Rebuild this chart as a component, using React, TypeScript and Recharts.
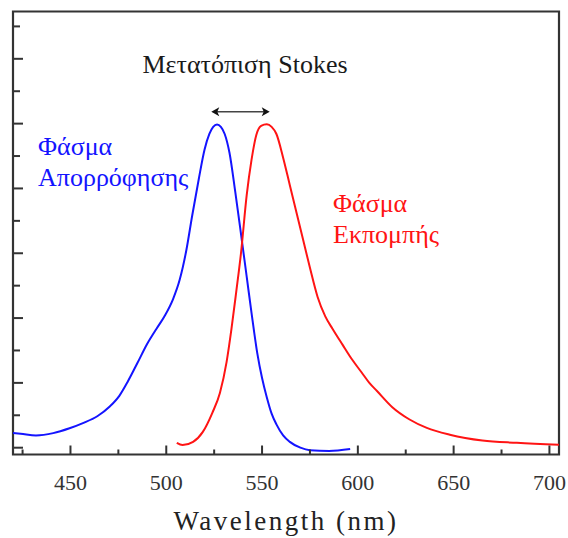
import React from 'react';
import { LineChart, Line, XAxis, YAxis, ReferenceArea, ReferenceLine } from 'recharts';

// wavelength ticks (nm) and intensity ticks (arb. units)
const wavelengthTicks = [425, 450, 475, 500, 525, 550, 575, 600, 625, 650, 675, 700];
const intensityTicks = [0, 0.1, 0.2, 0.3, 0.4, 0.5, 0.6, 0.7, 0.8, 0.9, 1.0, 1.1, 1.2, 1.3];

// absorption spectrum (blue)
const absorptionWl = [420, 424, 432, 441, 449.5, 456.5, 464, 470.5, 475.5, 480, 485, 490, 495, 499, 503.5, 507, 510.5, 513.5, 517, 520, 522.5, 524.5, 526.5, 528.5, 530.5, 533, 536, 539, 542, 544.5, 547.5, 550, 552.5, 555, 557.5, 561, 564.5, 570, 575, 585, 596];
const absorptionVal = [0.045, 0.043, 0.038, 0.045, 0.06, 0.076, 0.097, 0.127, 0.16, 0.205, 0.262, 0.32, 0.368, 0.405, 0.458, 0.518, 0.61, 0.715, 0.83, 0.92, 0.968, 0.99, 0.997, 0.99, 0.968, 0.91, 0.79, 0.66, 0.527, 0.416, 0.292, 0.215, 0.155, 0.105, 0.072, 0.038, 0.018, 0.0, -0.008, -0.01, -0.004];

// emission spectrum (red)
const emissionWl = [505.5, 508.5, 514, 519, 524, 528, 531.5, 534, 536.5, 539, 542, 544.5, 547, 549.5, 552.5, 555, 557.5, 561, 564.5, 568, 571.5, 575, 579, 583, 587, 592, 597, 602, 606, 610, 618, 627, 636, 648, 665, 683, 705];
const emissionVal = [0.015, 0.008, 0.018, 0.048, 0.107, 0.169, 0.265, 0.365, 0.48, 0.6, 0.78, 0.888, 0.965, 0.993, 0.998, 0.99, 0.968, 0.895, 0.81, 0.725, 0.64, 0.555, 0.465, 0.405, 0.365, 0.318, 0.272, 0.232, 0.2, 0.175, 0.125, 0.087, 0.061, 0.04, 0.022, 0.015, 0.009];

// stokes shift arrow
const stokesFrom = 523.5;
const stokesTo = 554;
const stokesLevel = 1.037;

const absorption = absorptionWl.map((wl, i) => ({ wl, v: absorptionVal[i] }));
const emission = emissionWl.map((wl, i) => ({ wl, v: emissionVal[i] }));

const X_DOMAIN: [number, number] = [420, 705];
const Y_DOMAIN: [number, number] = [-0.021, 1.346];
const AXIS = '#333';
const FONT = 'Liberation Serif';

const XTick = (props: any) => {
  const { x, y, payload } = props;
  const major = payload.value % 50 === 0;
  return (
    <g>
      <line x1={x} x2={x} y1={y} y2={y - (major ? 9 : 5)} stroke={AXIS} strokeWidth={2} />
      {major && (
        <text x={x} y={y + 35} textAnchor="middle" fill={AXIS} fontFamily={FONT} fontSize={22}>
          {payload.value}
        </text>
      )}
    </g>
  );
};

const YTick = (props: any) => {
  const { x, y, payload } = props;
  const major = Math.round(payload.value * 10) % 2 === 0;
  return <line x1={x} x2={x + (major ? 10 : 7)} y1={y} y2={y} stroke={AXIS} strokeWidth={2} />;
};

const Arrow = (props: any) => {
  const { x1, y1, x2 } = props;
  const h = 8;
  return (
    <g>
      <line x1={x1 + 4} x2={x2 - 4} y1={y1} y2={y1} stroke="#444" strokeWidth={1.5} />
      <polygon points={`${x1},${y1} ${x1 + h},${y1 - 4.5} ${x1 + h - 2},${y1} ${x1 + h},${y1 + 4.5}`} fill="#111" />
      <polygon points={`${x2},${y1} ${x2 - h},${y1 - 4.5} ${x2 - h + 2},${y1} ${x2 - h},${y1 + 4.5}`} fill="#111" />
    </g>
  );
};

const App: React.FC = () => {
  return (
    <div style={{ position: 'absolute', left: 0, top: 0, width: 568, height: 538, overflow: 'hidden', background: '#fff' }}>
      <LineChart width={568} height={538} margin={{ top: 11.5, right: 9, bottom: 82.5, left: 12 }}>
        <XAxis
          type="number"
          dataKey="wl"
          domain={X_DOMAIN}
          ticks={wavelengthTicks}
          interval={0}
          height={1}
          tickSize={0}
          tickMargin={0}
          tickLine={false}
          axisLine={false}
          tick={<XTick />}
          allowDataOverflow
        />
        <YAxis
          type="number"
          domain={Y_DOMAIN}
          ticks={intensityTicks}
          interval={0}
          width={1}
          tickSize={0}
          tickMargin={0}
          tickLine={false}
          axisLine={false}
          tick={<YTick />}
          allowDataOverflow
        />
        <ReferenceArea x1={X_DOMAIN[0]} x2={X_DOMAIN[1]} y1={Y_DOMAIN[0]} y2={Y_DOMAIN[1]} fill="none" stroke={AXIS} strokeWidth={2.2} fillOpacity={0} />
        <Line data={absorption} dataKey="v" type="monotone" stroke="#1414ff" strokeWidth={2} dot={false} isAnimationActive={false} />
        <Line data={emission} dataKey="v" type="monotone" stroke="#ff1414" strokeWidth={2} dot={false} isAnimationActive={false} />
        <ReferenceLine
          segment={[{ x: stokesFrom, y: stokesLevel }, { x: stokesTo, y: stokesLevel }]}
          shape={Arrow}
        />
      </LineChart>
      <svg width={568} height={538} style={{ position: 'absolute', left: 0, top: 0, pointerEvents: 'none' }}>
        <g fontFamily={FONT} fontSize={26}>
          <text x={245} y={73} textAnchor="middle" fill="#1a1a1a">Μετατόπιση Stokes</text>
          <text x={38} y={155} fill="#1414ff">Φάσμα</text>
          <text x={38} y={186} fill="#1414ff">Απορρόφησης</text>
          <text x={333} y={212} fill="#ff1414">Φάσμα</text>
          <text x={333} y={243} fill="#ff1414">Εκπομπής</text>
          <text x={286} y={530} textAnchor="middle" fill="#222" fontSize={27} letterSpacing={2.5}>Wavelength (nm)</text>
        </g>
      </svg>
    </div>
  );
};

export default App;
